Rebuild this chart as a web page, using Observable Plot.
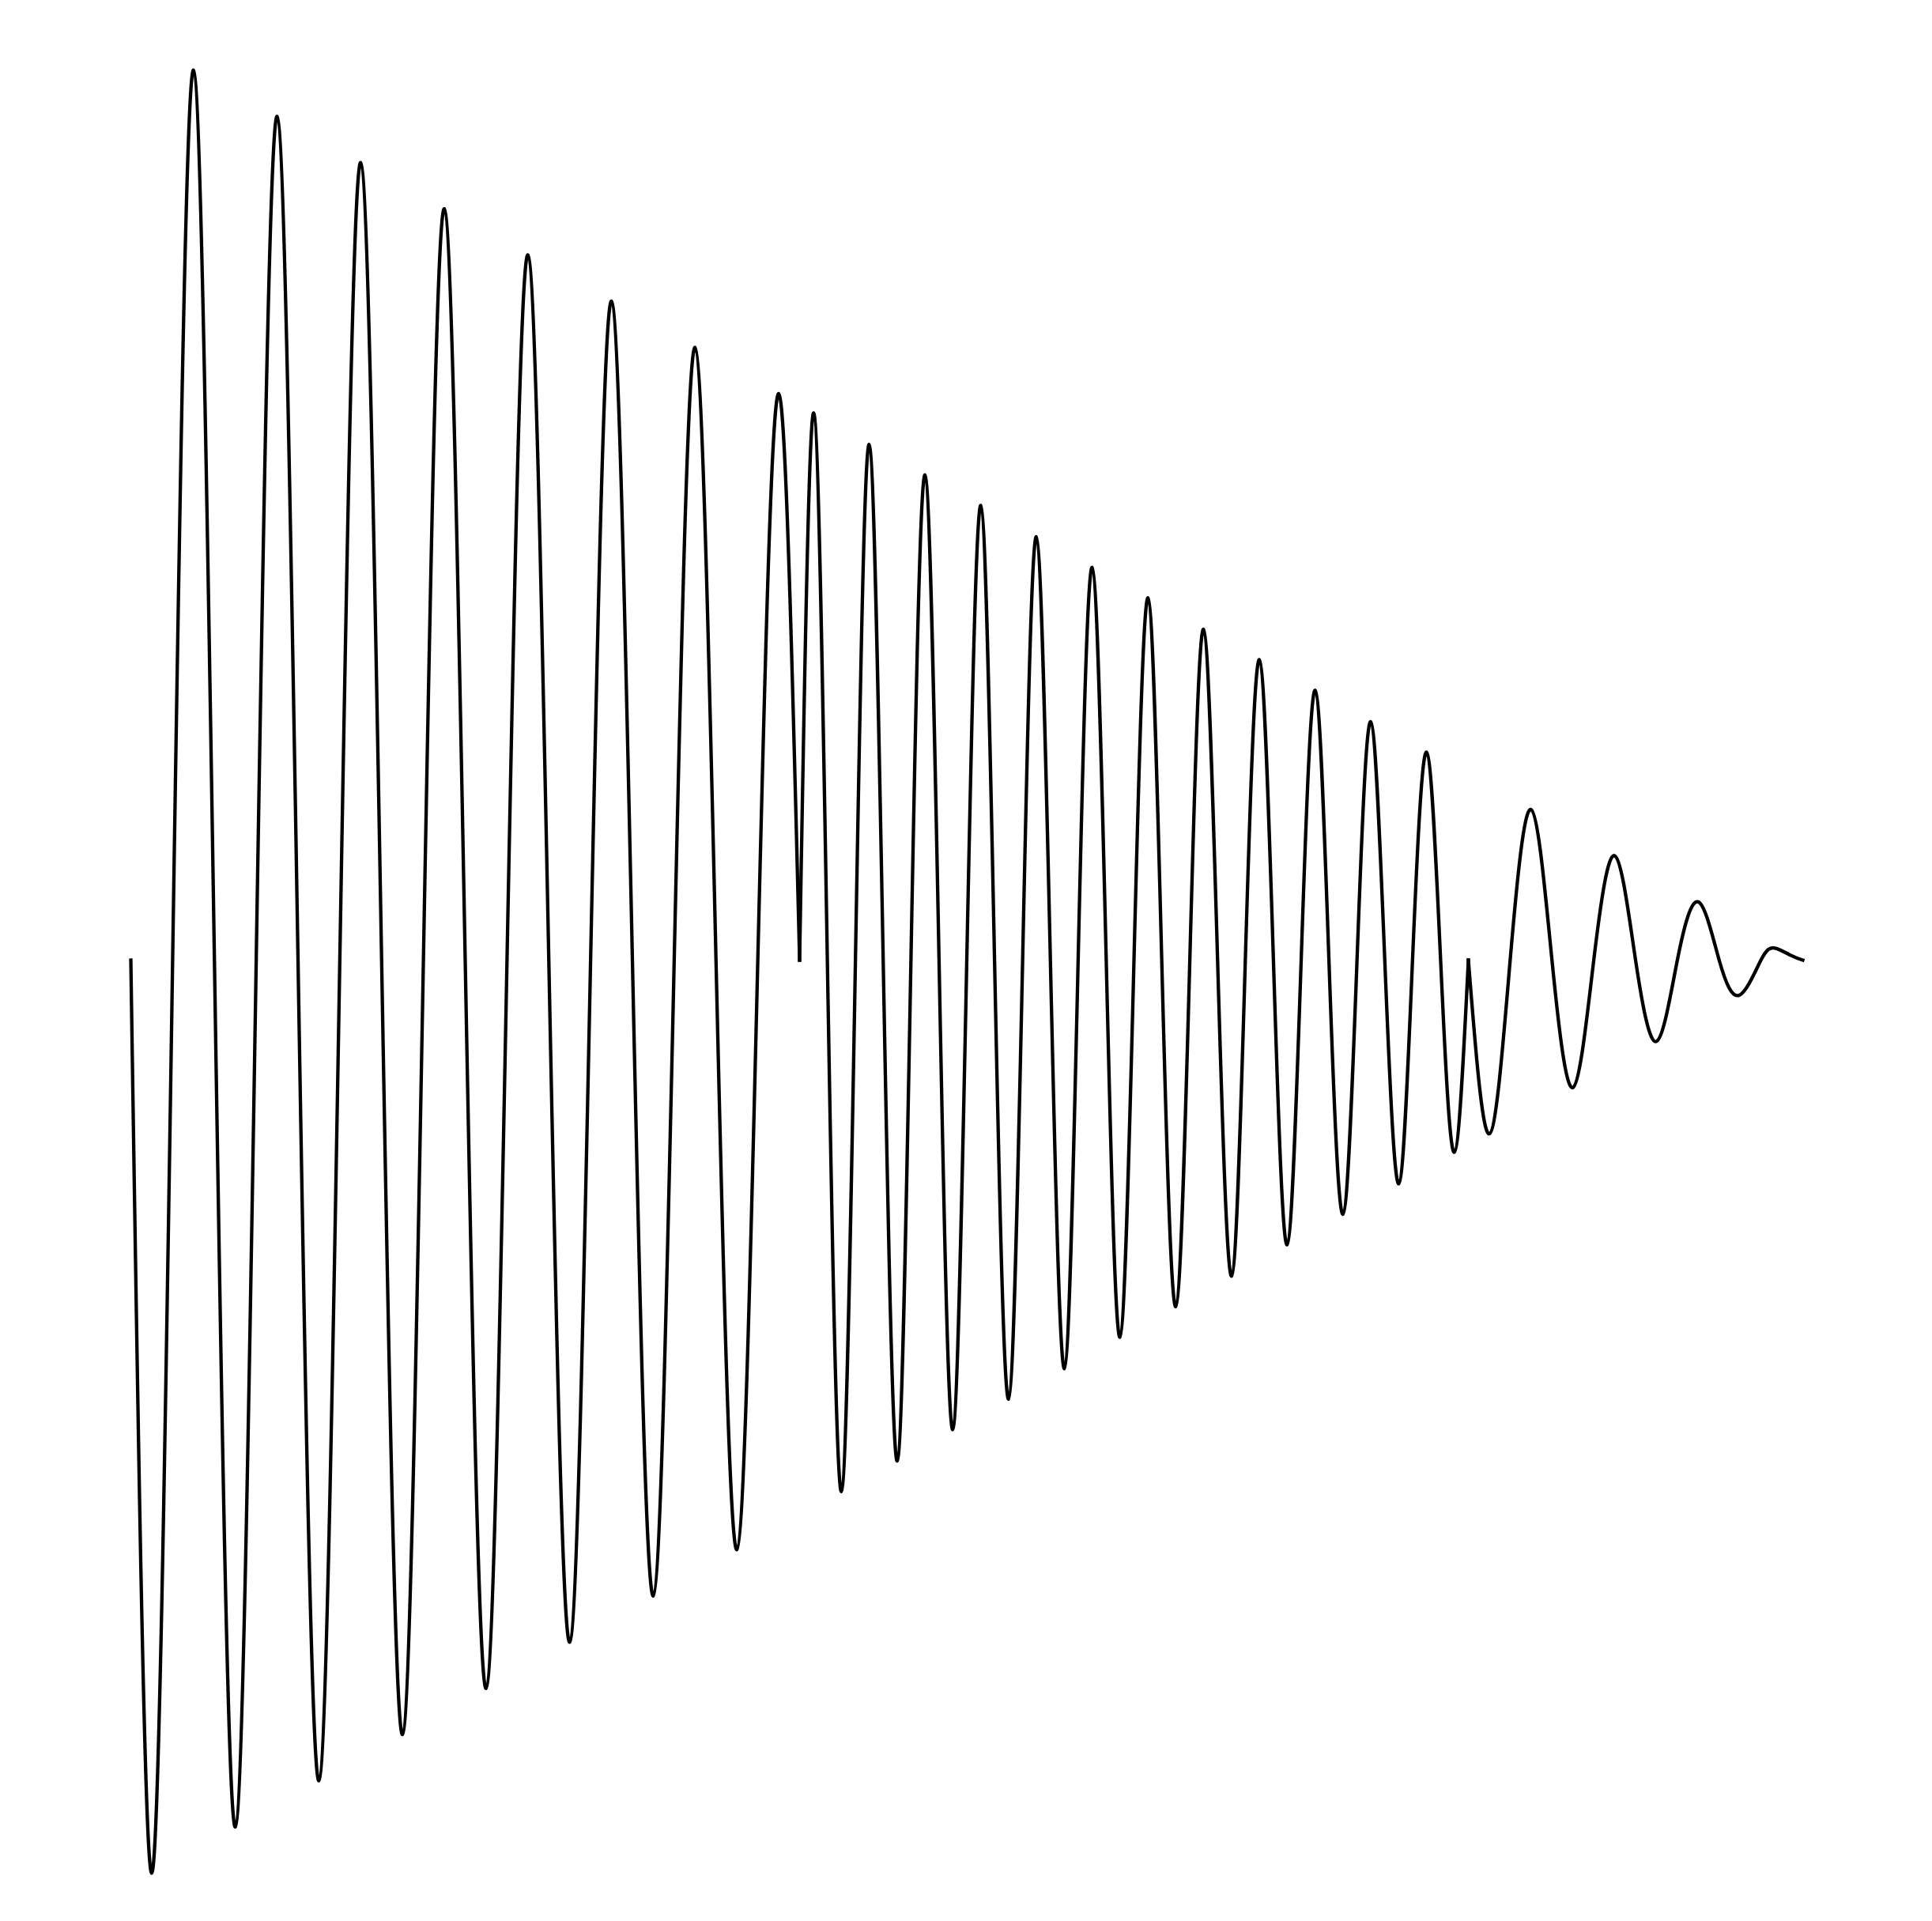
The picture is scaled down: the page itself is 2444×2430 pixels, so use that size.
<!DOCTYPE html>
<html>
<head>
<meta charset="utf-8">
<script src="https://cdn.jsdelivr.net/npm/d3@7"></script>
<script src="https://cdn.jsdelivr.net/npm/@observablehq/plot@0.6"></script>
<style>
  html, body { margin: 0; padding: 0; background: #ffffff; }
  #chart svg { display: block; }
</style>
</head>
<body>
<div id="chart"></div>
<script>
// Segment 1: time (s) and amplitude, read at zero crossings and extrema
const seg1Time = [0, 0.0625, 0.125, 0.1875, 0.25, 0.3125, 0.375, 0.4375, 0.5, 0.5625, 0.625, 0.6875, 0.75, 0.8125, 0.875, 0.9375, 1, 1.0625, 1.125, 1.1875, 1.25, 1.3125, 1.375, 1.4375, 1.5, 1.5625, 1.625, 1.6875, 1.75, 1.8125, 1.875, 1.9375, 2];
const seg1Value = [0, -0.988, 0, 0.963, 0, -0.938, 0, 0.913, 0, -0.888, 0, 0.863, 0, -0.838, 0, 0.813, 0, -0.788, 0, 0.763, 0, -0.738, 0, 0.713, 0, -0.688, 0, 0.663, 0, -0.638, 0, 0.613, 0];

// Segment 2 (higher pitch)
const seg2Time = [2, 2.042, 2.083, 2.125, 2.167, 2.208, 2.25, 2.292, 2.333, 2.375, 2.417, 2.458, 2.5, 2.542, 2.583, 2.625, 2.667, 2.708, 2.75, 2.792, 2.833, 2.875, 2.917, 2.958, 3, 3.042, 3.083, 3.125, 3.167, 3.208, 3.25, 3.292, 3.333, 3.375, 3.417, 3.458, 3.5, 3.542, 3.583, 3.625, 3.667, 3.708, 3.75, 3.792, 3.833, 3.875, 3.917, 3.958, 4];
const seg2Value = [0, 0.592, 0, -0.575, 0, 0.558, 0, -0.542, 0, 0.525, 0, -0.508, 0, 0.492, 0, -0.475, 0, 0.458, 0, -0.442, 0, 0.425, 0, -0.408, 0, 0.392, 0, -0.375, 0, 0.358, 0, -0.342, 0, 0.325, 0, -0.308, 0, 0.292, 0, -0.275, 0, 0.258, 0, -0.242, 0, 0.225, 0, -0.208, 0];

// Segment 3 (fade out)
const seg3Time = [4, 4.0625, 4.125, 4.1875, 4.25, 4.3125, 4.375, 4.4375, 4.5, 4.5625, 4.625, 4.6875, 4.75, 4.81, 4.875, 4.917, 4.965, 5];
const seg3Value = [0, -0.188, 0, 0.163, 0, -0.138, 0, 0.113, 0, -0.088, 0, 0.063, 0, -0.038, 0, 0.013, 0.005, 0];

const segments = [
  {name: "s1", time: seg1Time, value: seg1Value},
  {name: "s2", time: seg2Time, value: seg2Value},
  {name: "s3", time: seg3Time, value: seg3Value}
];
const rows = segments.flatMap(s => s.time.map((t, i) => ({t, v: s.value[i], seg: s.name})));

const chart = Plot.plot({
  width: 2444,
  height: 2430,
  marginLeft: 165,
  marginRight: 164,
  marginTop: 45,
  marginBottom: 47,
  style: {background: "#ffffff"},
  x: {domain: [0, 5], axis: null},
  y: {domain: [-1, 1], axis: null},
  marks: [
    Plot.line(rows, {x: "t", y: "v", z: "seg", curve: "natural", stroke: "#000000", strokeWidth: 4.3, strokeLinecap: "square", strokeLinejoin: "round"})
  ]
});
document.getElementById("chart").appendChild(chart);
</script>
</body>
</html>
